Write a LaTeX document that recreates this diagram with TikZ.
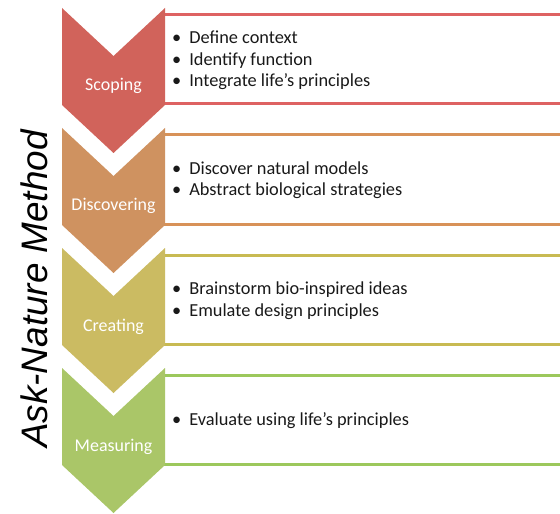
\documentclass[tikz,border=0pt]{standalone}
\usepackage{fontspec}
\setmainfont{Carlito}
\newfontfamily\methodfont{Liberation Sans}
\usetikzlibrary{positioning}

\definecolor{scopefill}{RGB}{209,99,91}
\definecolor{scopeline}{RGB}{222,98,98}
\definecolor{discfill}{RGB}{207,146,96}
\definecolor{discline}{RGB}{216,146,88}
\definecolor{creafill}{RGB}{203,187,98}
\definecolor{crealine}{RGB}{200,186,82}
\definecolor{measfill}{RGB}{170,198,104}
\definecolor{measline}{RGB}{156,200,92}

\begin{document}
\begin{tikzpicture}[
    x=1bp, y=-1bp,
    font=\fontsize{18}{21.5}\selectfont,
    steplabel/.style={text=white, anchor=base},
    bulletlist/.style={anchor=west, align=left, text=black!90,
        font=\fontsize{18.4}{21.5}\selectfont, inner sep=0pt},
    boxline/.style={line width=3bp},
    ]

    \useasboundingbox (0,0) rectangle (560,514);

    % One stage: box lines, chevron, label and bullet points
    % Parameters: ID, Top_y, Fill, Line, Label, Bullets
    \newcommand{\methodstep}[6]{
        \pgfmathsetmacro{\ty}{#2}

        % Box lines running off to the right
        \coordinate (box-#1-top) at (160, \ty+7);
        \coordinate (box-#1-bot) at (160, \ty+96);
        \draw[boxline, #4] (box-#1-top) -- ++(410,0);
        \draw[boxline, #4] (box-#1-bot) -- ++(410,0);

        % Chevron pointing down
        \fill[#3] (62, \ty) -- (113.5, \ty+48) -- (165, \ty) -- (165, \ty+97)
            -- (113.5, \ty+145) -- (62, \ty+97) -- cycle;

        % Label Nodes
        \node[steplabel] (label-#1) at (113.5, \ty+83) {#5};
        \node[bulletlist] (list-#1) at (172, \ty+52.5) {#6};
    }

    \newcommand{\pt}{\textbullet\hspace{8bp}}

    \methodstep{scoping}{8}{scopefill}{scopeline}{Scoping}
        {\pt Define context\\ \pt Identify function\\ \pt Integrate life’s principles}
    \methodstep{discovering}{128}{discfill}{discline}{Discovering}
        {\pt Discover natural models\\ \pt Abstract biological strategies}
    \methodstep{creating}{248}{creafill}{crealine}{Creating}
        {\pt Brainstorm bio-inspired ideas\\ \pt Emulate design principles}
    \methodstep{measuring}{368}{measfill}{measline}{Measuring}
        {\pt Evaluate using life’s principles}

    % Side title
    \node[rotate=90, font=\methodfont\itshape\fontsize{37}{40}\selectfont, inner sep=0pt]
        (title) at (34, 289) {Ask-Nature Method};

\end{tikzpicture}
\end{document}
